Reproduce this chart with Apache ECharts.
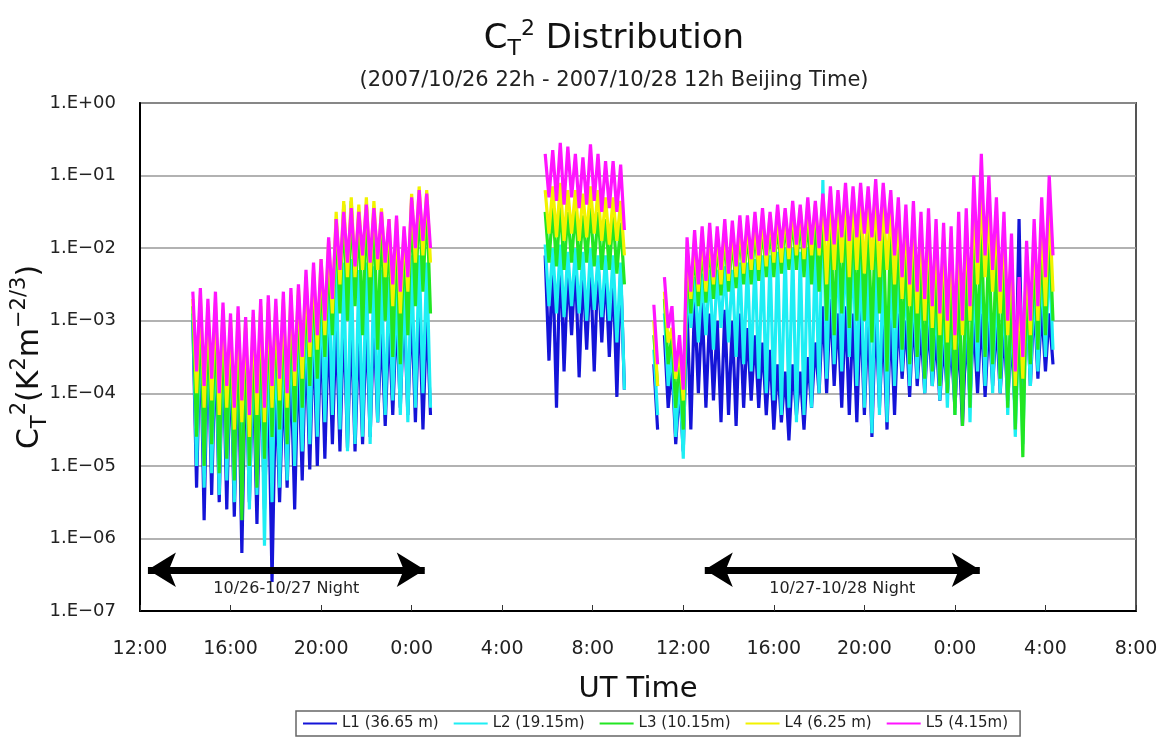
<!DOCTYPE html>
<html>
<head>
<meta charset="UTF-8">
<title>CT2 Distribution</title>
<script src="https://cdn.jsdelivr.net/npm/echarts@6/dist/echarts.min.js"></script>
<style>
  html, body { margin: 0; padding: 0; background: #fff; }
  #chart { width: 1163px; height: 741px; }
</style>
</head>
<body>
<div id="chart"></div>
<script>
// time grid: each segment is a run of 20-minute bins (hours UT, 12 = 12:00 on 10/26)
var segStart = [14.333, 29.9, 34.7, 35.167];
var segBins = [32, 11, 1, 52];

// per bin upper / lower excursion of each level, log10(CT2)
var L1_hi = [-3.0,-3.1,-3.2,-3.3,-3.3,-3.4,-3.4,-3.5,-3.6,-3.5,-3.7,-3.8,-3.8,-3.6,-3.4,-3.2,-3.1,-3.0,-3.0,-3.0,-2.9,-3.0,-3.1,-3.0,-3.0,-3.1,-3.0,-2.9,-2.8,-2.8,-2.7,-2.9,
  -2.1,-2.2,-2.0,-2.3,-2.2,-2.3,-2.25,-2.2,-2.3,-2.35,-2.3,
  -3.6,
  -3.2,-3.6,-3.9, -2.8,-2.7,-2.75,-2.9,-3.0,-2.85,-3.0,-2.9, -3.1,-3.2,-3.3,-3.4,-3.6,-3.7,-3.6,-3.7,-3.5,-3.3, -2.8,-2.7,-2.9,-2.8,-2.9,
  -2.8,-2.9,-2.85,-3.0,-2.9, -2.9,-3.0,-2.9,-3.1,-3.0,-3.2,-3.3, -3.3,-3.2,-3.1, -3.0,-2.9,-3.0, -3.0,-3.1,-3.2, -1.6, -2.6,-2.7,-2.8,-2.9];
var L1_lo = [-5.3,-5.75,-5.4,-5.5,-5.6,-5.7,-6.2,-5.5,-5.8,-5.6,-6.6,-5.5,-5.3,-5.6,-5.2,-5.05,-5.0,-4.9,-4.7,-4.8,-4.75,-4.8,-4.7,-4.6,-4.4,-4.45,-4.3,-4.2,-4.3,-4.4,-4.5,-4.3,
  -3.55,-4.2,-3.7,-3.2,-3.78,-3.4,-3.7,-3.3,-3.5,-4.05,-3.95,
  -4.5,
  -4.2,-4.7,-4.8, -4.5,-4.0,-4.2,-4.1,-4.4,-4.3,-4.45,-4.2, -4.1,-4.2,-4.3,-4.5,-4.4,-4.65,-4.3,-4.5,-4.2,-4.0, -4.0,-3.9,-4.2,-4.3,-4.4,
  -4.3,-4.6,-4.2,-4.5,-4.3, -3.8,-4.05,-3.9,-4.0,-3.9,-4.1,-4.0, -4.2,-4.45,-4.1, -4.0,-4.05,-3.9, -4.0,-4.1,-4.3, -4.3, -3.9,-3.8,-3.7,-3.6];

var L2_hi = [-2.9,-2.9,-3.0,-3.0,-3.1,-3.2,-3.15,-3.2,-3.2,-3.1,-3.0,-3.1,-3.0,-2.95,-2.8,-2.7,-2.6,-2.5,-2.3,-2.2,-2.2,-2.15,-2.3,-2.2,-2.25,-2.3,-2.4,-2.45,-2.35,-2.1,-2.1,-2.2,
  -1.95,-2.0,-1.95,-2.05,-2.0,-2.05,-2.0,-2.1,-2.1,-2.1,-2.2,
  -3.4,
  -2.9,-3.4,-3.7, -2.5,-2.4,-2.35,-2.3,-2.3,-2.25,-2.3,-2.2, -2.2,-2.15,-2.1,-2.1,-2.05,-2.0,-2.0,-2.05,-2.0,-1.95, -1.06,-1.9,-1.95,-1.9,-1.95,
  -2.0,-2.1,-2.0,-2.1,-2.1, -2.2,-2.3,-2.4,-2.5,-2.4,-2.6,-2.7, -2.7,-2.6,-2.5, -2.3,-2.2,-2.3, -2.4,-2.5,-2.7, -3.0, -2.6,-2.4,-2.2,-2.1];
var L2_lo = [-5.0,-5.3,-5.1,-5.4,-5.2,-5.5,-5.3,-5.6,-5.4,-6.1,-5.5,-5.3,-5.2,-5.0,-4.8,-4.7,-4.6,-4.4,-4.3,-4.5,-4.8,-4.7,-4.6,-4.7,-4.4,-4.3,-4.1,-4.3,-4.4,-4.2,-4.0,-4.2,
  -2.8,-2.9,-2.95,-2.8,-2.9,-3.0,-2.85,-2.95,-3.0,-3.3,-3.95,
  -4.3,
  -3.9,-4.6,-4.9, -3.1,-3.3,-3.2,-3.4,-3.1,-3.3,-3.5,-3.6, -3.7,-3.8,-4.0,-4.1,-4.3,-4.2,-4.4,-4.3,-4.2,-4.0, -3.8,-3.6,-3.7,-3.5,-3.9,
  -4.2,-4.55,-4.3,-4.4,-3.9, -3.7,-3.9,-3.8,-4.0,-3.9,-4.1,-4.2, -4.3,-4.2,-4.4, -3.7,-3.9,-4.0, -4.0,-4.3,-4.6, -4.7, -3.9,-3.7,-3.5,-3.4];

var L3_hi = [-2.8,-2.75,-2.9,-2.85,-2.95,-3.1,-3.0,-3.1,-3.05,-2.9,-2.85,-2.9,-2.8,-2.75,-2.65,-2.5,-2.4,-2.3,-2.1,-1.6,-1.4,-1.35,-1.5,-1.4,-1.45,-1.55,-1.7,-1.75,-1.85,-1.35,-1.3,-1.35,
  -1.5,-1.45,-1.4,-1.5,-1.45,-1.55,-1.45,-1.5,-1.6,-1.55,-1.65,
  -3.2,
  -2.7,-3.2,-3.5, -2.1,-2.0,-1.95,-1.9,-1.9,-1.8,-1.85,-1.75, -1.75,-1.7,-1.65,-1.65,-1.6,-1.6,-1.55,-1.55,-1.5,-1.5, -1.5,-1.45,-1.5,-1.4,-1.45,
  -1.5,-1.55,-1.5,-1.6,-1.6, -1.8,-1.9,-2.0,-2.1,-2.0,-2.2,-2.3, -2.3,-2.2,-2.1, -1.8,-1.7,-1.9, -2.0,-2.1,-2.4, -2.8, -2.4,-2.1,-1.9,-1.7];
var L3_lo = [-4.6,-5.0,-4.7,-5.1,-4.9,-5.2,-5.75,-5.0,-5.3,-4.9,-4.6,-4.5,-4.7,-4.4,-4.2,-3.9,-3.8,-3.5,-3.2,-2.9,-3.0,-2.8,-3.2,-2.9,-3.4,-3.0,-3.5,-3.6,-3.2,-2.8,-2.6,-2.9,
  -2.2,-2.25,-2.3,-2.2,-2.3,-2.2,-2.25,-2.3,-2.3,-2.35,-2.5,
  -3.9,
  -3.6,-4.2,-4.5, -2.9,-2.8,-2.75,-2.7,-2.65,-2.6,-2.55,-2.5, -2.5,-2.45,-2.4,-2.4,-2.35,-2.3,-2.3,-2.4,-2.5,-2.6, -3.0,-3.2,-2.9,-3.1,-3.0,
  -3.0,-3.3,-2.9,-3.7,-3.1, -3.4,-3.6,-3.5,-3.8,-3.7,-3.9,-4.0, -4.3,-4.45,-4.2, -3.3,-3.5,-3.6, -3.8,-4.2,-4.5, -4.88, -3.6,-3.4,-3.2,-3.0];

var L4_hi = [-2.7,-2.65,-2.8,-2.75,-2.85,-3.0,-2.9,-3.0,-2.95,-2.8,-2.75,-2.8,-2.7,-2.65,-2.55,-2.4,-2.3,-2.15,-1.9,-1.5,-1.35,-1.3,-1.4,-1.3,-1.35,-1.45,-1.6,-1.6,-1.75,-1.25,-1.15,-1.2,
  -1.2,-1.15,-1.1,-1.2,-1.2,-1.25,-1.15,-1.2,-1.3,-1.3,-1.35,
  -3.0,
  -2.6,-3.1,-3.4, -2.0,-1.9,-1.85,-1.8,-1.8,-1.7,-1.75,-1.65, -1.65,-1.6,-1.55,-1.55,-1.5,-1.5,-1.45,-1.45,-1.4,-1.4, -1.3,-1.25,-1.3,-1.2,-1.25,
  -1.3,-1.35,-1.3,-1.35,-1.4, -1.5,-1.6,-1.55,-1.7,-1.65,-1.8,-1.85, -1.9,-1.8,-1.7, -1.4,-1.3,-1.5, -1.6,-1.7,-2.0, -2.6, -2.1,-1.8,-1.6,-1.4];
var L4_lo = [-4.0,-4.2,-4.1,-4.3,-4.2,-4.5,-4.4,-4.6,-4.3,-4.4,-4.2,-4.1,-4.2,-3.9,-3.8,-3.5,-3.4,-3.2,-2.9,-2.5,-2.4,-2.4,-2.3,-2.4,-2.3,-2.4,-2.8,-2.9,-2.6,-2.2,-2.1,-2.2,
  -1.8,-1.85,-1.9,-1.8,-1.9,-1.85,-1.8,-1.9,-1.95,-1.9,-2.1,
  -3.9,
  -3.3,-3.8,-4.1, -2.7,-2.6,-2.6,-2.5,-2.5,-2.45,-2.4,-2.35, -2.3,-2.3,-2.25,-2.2,-2.2,-2.15,-2.1,-2.15,-2.1,-2.1, -2.5,-2.3,-2.2,-2.4,-2.3,
  -2.35,-2.3,-2.4,-2.3,-2.5, -2.7,-2.8,-2.9,-3.0,-3.1,-3.2,-3.3, -3.4,-3.2,-3.0, -2.5,-2.4,-2.6, -2.9,-3.2,-3.9, -3.8, -3.2,-3.0,-2.8,-2.6];

var L5_hi = [-2.6,-2.55,-2.7,-2.6,-2.75,-2.9,-2.8,-2.95,-2.85,-2.7,-2.65,-2.7,-2.6,-2.55,-2.5,-2.3,-2.2,-2.15,-1.85,-1.6,-1.5,-1.45,-1.5,-1.4,-1.45,-1.5,-1.6,-1.55,-1.7,-1.3,-1.2,-1.25,
  -0.7,-0.65,-0.55,-0.6,-0.7,-0.75,-0.57,-0.7,-0.8,-0.8,-0.85,
  -2.78,
  -2.4,-2.8,-3.2, -1.85,-1.75,-1.7,-1.65,-1.7,-1.6,-1.62,-1.55, -1.55,-1.5,-1.45,-1.5,-1.4,-1.45,-1.35,-1.4,-1.3,-1.35, -1.25,-1.15,-1.2,-1.1,-1.15,
  -1.1,-1.15,-1.05,-1.1,-1.2, -1.3,-1.4,-1.35,-1.5,-1.45,-1.6,-1.65, -1.7,-1.5,-1.45, -1.0,-0.7,-1.0, -1.3,-1.5,-1.8, -2.4, -1.9,-1.6,-1.3,-1.0];
var L5_lo = [-3.7,-3.9,-3.8,-4.0,-3.9,-4.2,-4.1,-4.3,-4.0,-4.2,-3.9,-3.8,-4.0,-3.7,-3.5,-3.3,-3.2,-3.0,-2.7,-2.3,-2.2,-2.25,-2.1,-2.2,-2.15,-2.2,-2.5,-2.6,-2.4,-2.0,-1.9,-2.0,
  -1.3,-1.35,-1.4,-1.3,-1.45,-1.4,-1.35,-1.5,-1.45,-1.5,-1.75,
  -3.6,
  -3.1,-3.7,-3.95, -2.6,-2.5,-2.45,-2.4,-2.3,-2.35,-2.25,-2.2, -2.15,-2.1,-2.1,-2.05,-2.0,-2.0,-1.95,-2.0,-1.95,-2.0, -1.9,-1.95,-1.85,-1.9,-1.85,
  -1.8,-1.85,-1.9,-1.8,-2.1, -2.4,-2.5,-2.6,-2.7,-2.8,-2.9,-3.0, -3.2,-3.0,-2.8, -2.2,-2.1,-2.3, -2.6,-3.0,-3.7, -3.5, -3.0,-2.8,-2.4,-2.1];

var seriesNames = ['L1 (36.65 m)', 'L2 (19.15m)', 'L3 (10.15m)', 'L4 (6.25 m)', 'L5 (4.15m)'];
var seriesColors = ['#1414d8', '#1eeef4', '#22e622', '#f2f200', '#ff14ff'];
var seriesHi = [L1_hi, L2_hi, L3_hi, L4_hi, L5_hi];
var seriesLo = [L1_lo, L2_lo, L3_lo, L4_lo, L5_lo];

// night periods marked with arrows: [start hour, end hour, label]
var nights = [[12.35, 24.58, '10/26-10/27 Night'], [36.95, 49.1, '10/27-10/28 Night']];
var arrowLevel = 3.7e-7;

var yTicks = ['1.E−07', '1.E−06', '1.E−05', '1.E−04', '1.E−03', '1.E−02', '1.E−01', '1.E+00'];

function build(hi, lo) {
  var out = [], k = 0;
  for (var s = 0; s < segStart.length; s++) {
    for (var i = 0; i < segBins[s]; i++, k++) {
      var t = segStart[s] + i / 3;
      out.push([t, Math.pow(10, hi[k])]);
      out.push([t + 1 / 6, Math.pow(10, lo[k])]);
    }
    out.push([segStart[s] + segBins[s] / 3, '-']);
  }
  return out;
}

var font = '"DejaVu Sans", Verdana, sans-serif';
var series = [];
for (var n = 0; n < 5; n++) {
  var s = {
    name: seriesNames[n],
    type: 'line',
    data: build(seriesHi[n], seriesLo[n]),
    symbol: 'none',
    showSymbol: false,
    connectNulls: false,
    color: seriesColors[n],
    lineStyle: { width: 3.2, color: seriesColors[n] },
    emphasis: { disabled: true },
    animation: false
  };
  if (n === 0) {
    s.markLine = {
      silent: true,
      symbol: ['arrow', 'arrow'],
      symbolSize: [26, 28],
      lineStyle: { color: '#000', width: 7, type: 'solid' },
      label: {
        show: true, position: 'insideMiddleBottom', distance: 11,
        color: '#222', fontSize: 16, fontFamily: font,
        formatter: function (p) { return p.name; }
      },
      data: nights.map(function (d) {
        return [{ name: d[2], coord: [d[0], arrowLevel] }, { coord: [d[1], arrowLevel] }];
      })
    };
  }
  series.push(s);
}

var chart = echarts.init(document.getElementById('chart'));
chart.setOption({
  backgroundColor: '#fff',
  animation: false,
  title: {
    left: 609, top: 13,
    textAlign: 'center',
    text: '{a|C}{b|T}{c|2}{a| Distribution}',
    textStyle: {
      fontFamily: font, fontWeight: 'normal',
      rich: {
        a: { fontSize: 34, color: '#111', fontFamily: font, fontWeight: 'normal', lineHeight: 42 },
        b: { fontSize: 22, color: '#111', fontFamily: font, fontWeight: 'normal', verticalAlign: 'bottom' },
        c: { fontSize: 22, color: '#111', fontFamily: font, fontWeight: 'normal', verticalAlign: 'top' }
      }
    },
    subtext: '(2007/10/26 22h - 2007/10/28 12h Beijing Time)',
    subtextStyle: { fontSize: 21, color: '#222', fontFamily: font },
    itemGap: 10
  },
  legend: {
    top: 711,
    left: 296,
    data: seriesNames,
    icon: 'rect',
    itemWidth: 34,
    itemHeight: 2,
    itemGap: 15,
    borderColor: '#666',
    borderWidth: 1.5,
    padding: [5, 12, 5, 7],
    textStyle: { fontSize: 15, color: '#222', fontFamily: font }
  },
  grid: {
    left: 140, right: 27, top: 103, bottom: 130,
    outerBoundsMode: 'none',
    show: true, borderColor: '#555', borderWidth: 2, backgroundColor: '#fff'
  },
  xAxis: {
    type: 'value',
    min: 12, max: 56, interval: 4,
    name: 'UT Time',
    nameLocation: 'middle',
    nameGap: 64,
    nameTextStyle: { fontSize: 29, color: '#111', fontFamily: font },
    axisLine: { show: true, lineStyle: { color: '#000', width: 2 } },
    axisTick: { show: true, inside: true, length: 6, lineStyle: { color: '#333' } },
    axisLabel: {
      fontSize: 19, color: '#222', fontFamily: font, margin: 29,
      formatter: function (v) { return (v % 24) + ':00'; }
    },
    splitLine: { show: false }
  },
  yAxis: {
    type: 'log',
    logBase: 10,
    min: 1e-7, max: 1,
    name: '{a|C}{b|T}{c|2}{a|(K}{c|2}{a|m}{c|−2/3}{a|)}',
    nameLocation: 'middle',
    nameRotate: 90,
    nameGap: 89,
    nameMoveOverlap: false,
    nameTextStyle: {
      fontFamily: font,
      rich: {
        a: { fontSize: 30, color: '#111', fontFamily: font, lineHeight: 42 },
        b: { fontSize: 21, color: '#111', fontFamily: font, verticalAlign: 'bottom' },
        c: { fontSize: 21, color: '#111', fontFamily: font, verticalAlign: 'top' }
      }
    },
    axisLine: { show: true, lineStyle: { color: '#000', width: 2 } },
    axisTick: { show: false },
    axisLabel: {
      fontSize: 18, color: '#222', fontFamily: font, margin: 24,
      formatter: function (v) {
        var e = Math.round(Math.log10(v));
        return yTicks[e + 7];
      }
    },
    splitLine: { show: true, lineStyle: { color: '#999', width: 1.5 } }
  },
  series: series
});
</script>
</body>
</html>
